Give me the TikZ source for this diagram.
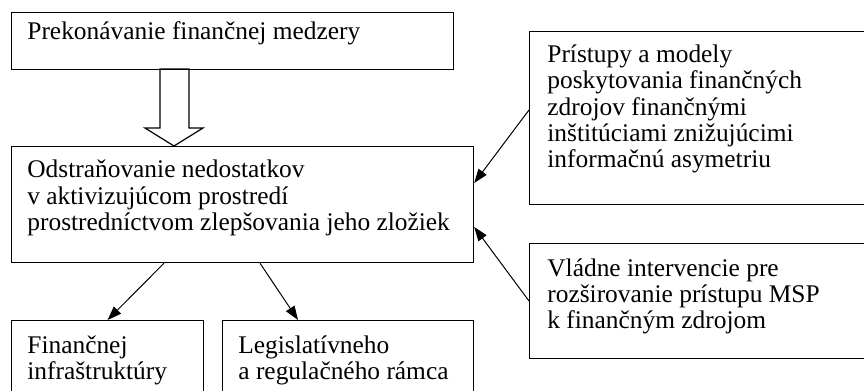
\documentclass[tikz,border=0pt]{standalone}
\usepackage{fontspec}
\setmainfont{Liberation Serif}
\usepackage{tikz}
\usetikzlibrary{calc}
\usetikzlibrary{arrows.meta}

\newcommand{\boxlines}[1]{\begin{tabular}[t]{@{}l@{}}#1\end{tabular}}

\tikzset{
  box/.style={draw, line width=0.6pt, rectangle, inner sep=0pt, anchor=north west},
  txt/.style={anchor=base west, inner sep=0pt, font=\fontsize{12.7}{13.15}\selectfont},
  link/.style={line width=0.5pt, -{Triangle[length=7pt,width=5pt]}}
}

\begin{document}
\begin{tikzpicture}[x=0.5pt,y=-0.5pt]
                \useasboundingbox (0,0) rectangle (864,391);
                \clip (0,0) rectangle (864,391);
                % boxes
                \node[box, minimum width=221pt, minimum height=28.5pt] (gap) at (11,12) {};
                \node[box, minimum width=231pt, minimum height=58pt] (fix) at (11,146) {};
                \node[box, minimum width=170.5pt, minimum height=86.5pt] (inst) at (529,31) {};
                \node[box, minimum width=170.5pt, minimum height=57.5pt] (gov) at (529,243) {};
                \node[box, minimum width=96pt, minimum height=45pt] (infra) at (11,320) {};
                \node[box, minimum width=125.5pt, minimum height=45pt] (legal) at (222,320) {};
                % texts
                \node[txt] (gap-t) at ($(gap.north west)+(16,27.5)$) {Prekonávanie finančnej medzery};
                \node[txt] (fix-t) at ($(fix.north west)+(16,31.7)$) {\boxlines{Odstraňovanie nedostatkov\\ v aktivizujúcom prostredí\\ prostredníctvom zlepšovania jeho zložiek}};
                \node[txt] (inst-t) at ($(inst.north west)+(18,31.7)$) {\boxlines{Prístupy a modely\\ poskytovania finančných\\ zdrojov finančnými\\ inštitúciami znižujúcimi\\ informačnú asymetriu}};
                \node[txt] (gov-t) at ($(gov.north west)+(18,33)$) {\boxlines{Vládne intervencie pre\\ rozširovanie prístupu MSP\\ k finančným zdrojom}};
                \node[txt] (infra-t) at ($(infra.north west)+(16,33)$) {\boxlines{Finančnej\\ infraštruktúry}};
                \node[txt] (legal-t) at ($(legal.north west)+(16,33)$) {\boxlines{Legislatívneho\\ a regulačného rámca}};
                % hollow arrow
                \coordinate (tip) at ($(fix.north west)+(163,0)$);
                \draw[line width=0.6pt] (tip) -- ++(29,-18) -- ++(-14,0) -- ++(0,-59) -- ++(-29,0) -- ++(0,59) -- ++(-15,0) -- cycle;
                % links
                \draw[link] ($(inst.north west)+(0,79)$) -- ($(fix.north east)+(0,37)$);
                \draw[link] ($(gov.north west)+(0,58)$) -- ($(fix.north east)+(0,81)$);
                \draw[link] ($(fix.south west)+(153,0)$) -- (infra.north);
                \draw[link] ($(fix.south west)+(249,0)$) -- ($(legal.north west)+(76,0)$);
            \end{tikzpicture}
\end{document}
